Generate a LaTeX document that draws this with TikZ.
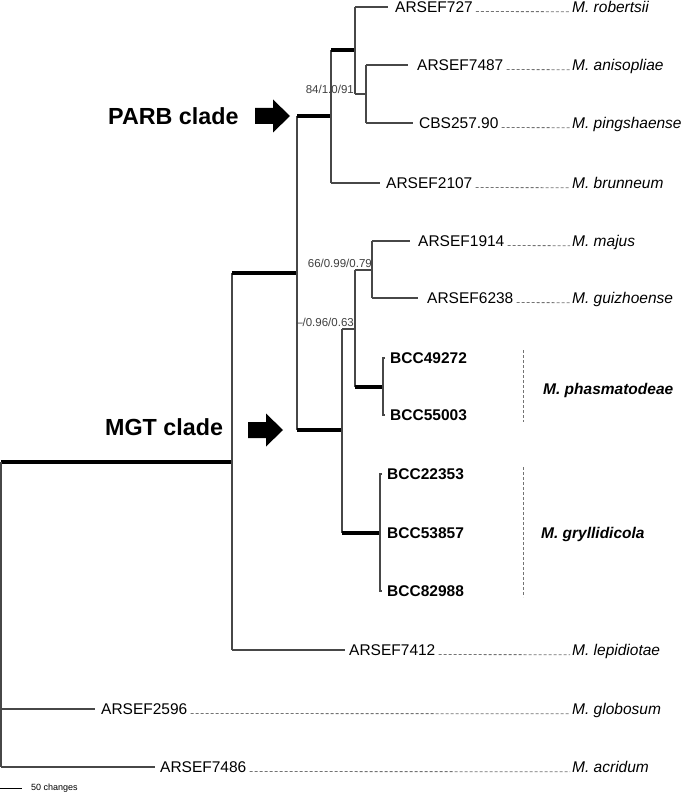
\documentclass[tikz,border=0pt]{standalone}
\usepackage{fontspec}
\setmainfont{Liberation Sans}
\begin{document}
\begin{tikzpicture}[x=1pt,y=-1pt,
  br/.style={draw=black!72, line width=1.1pt},
  thk/.style={draw=black, line width=3.8pt},
  dsh/.style={draw=black!55, line width=0.8pt, dash pattern=on 3pt off 2pt},
  lab/.style={inner sep=0pt, anchor=west, font=\fontsize{15.5}{18}\selectfont},
  bcc/.style={inner sep=0pt, anchor=west, font=\fontsize{15.5}{18}\selectfont\bfseries},
  sp/.style={inner sep=0pt, anchor=base west, font=\fontsize{15.5}{18}\selectfont\itshape},
  spb/.style={inner sep=0pt, anchor=base west, font=\fontsize{15.5}{18}\selectfont\bfseries\itshape},
  suplab/.style={inner sep=0pt, anchor=east, text=black!75, font=\fontsize{11.5}{13}\selectfont},
  clade/.style={inner sep=0pt, anchor=west, font=\fontsize{23.3}{27}\selectfont\bfseries},
  cladearrow/.pic={\fill[black] (-35,-8) -- (-17,-8) -- (-17,-16.5) -- (0,0) -- (-17,16.5) -- (-17,8) -- (-35,8) -- cycle;}
]
\fill[white] (0,0) rectangle (684,794);
\useasboundingbox (0,0) rectangle (684,794);

% internal nodes
\coordinate (R) at (1,462);
\coordinate (A) at (232,462);
\coordinate (B) at (297,273);
\coordinate (P) at (331,116);
\coordinate (Q) at (355,50);
\coordinate (S) at (366,94);
\coordinate (M) at (342,430);
\coordinate (T) at (355,329);
\coordinate (U) at (372,270);
\coordinate (H) at (383,387);
\coordinate (G) at (380,533);

% strain labels
\node[lab] (t727) at (395,7) {ARSEF727};
\node[lab] (t7487) at (417,65) {ARSEF7487};
\node[lab] (t257) at (419,123) {CBS257.90};
\node[lab] (t2107) at (386,183) {ARSEF2107};
\node[lab] (t1914) at (418,241) {ARSEF1914};
\node[lab] (t6238) at (427,298) {ARSEF6238};
\node[bcc] (b49) at (390,358) {BCC49272};
\node[bcc] (b55) at (390,415) {BCC55003};
\node[bcc] (b22) at (387,474) {BCC22353};
\node[bcc] (b53) at (387,533) {BCC53857};
\node[bcc] (b82) at (387,591) {BCC82988};
\node[lab] (t7412) at (349,650) {ARSEF7412};
\node[lab] (t2596) at (101,709) {ARSEF2596};
\node[lab] (t7486) at (160,767) {ARSEF7486};

% species labels
\node[sp] (s727) at (572,12.5) {M. robertsii};
\node[sp] (s7487) at (572,70.5) {M. anisopliae};
\node[sp] (s257) at (572,128.5) {M. pingshaense};
\node[sp] (s2107) at (572,188.5) {M. brunneum};
\node[sp] (s1914) at (572,246.5) {M. majus};
\node[sp] (s6238) at (572,303.5) {M. guizhoense};
\node[sp] (s7412) at (572,655.5) {M. lepidiotae};
\node[sp] (s2596) at (572,714.5) {M. globosum};
\node[sp] (s7486) at (572,772.5) {M. acridum};
\node[spb] (sph) at (543,394.5) {M. phasmatodeae};
\node[spb] (sgr) at (541,538.5) {M. gryllidicola};

% dashed leaders
\foreach \a/\b in {t727/s727,t7487/s7487,t257/s257,t2107/s2107,t1914/s1914,t6238/s6238,t7412/s7412,t2596/s2596,t7486/s7486}
  \draw[dsh] ([xshift=3pt,yshift=0.8pt]\a.base east) -- ([xshift=-2pt,yshift=0.8pt]\b.base west);

% bracket lines
\coordinate (d1a) at (523,350); \coordinate (d1b) at (523,422);
\coordinate (d2a) at (523,467); \coordinate (d2b) at (523,597);
\draw[dsh] (d1a) -- (d1b);
\draw[dsh] (d2a) -- (d2b);

% root
\draw[thk] (R) -- (A);
\draw[br] (R) -- (R |- t7486.west);
\draw[br] (R |- t2596.west) -- ([xshift=-6pt]t2596.west);
\draw[br] (R |- t7486.west) -- ([xshift=-5pt]t7486.west);
% A
\draw[br] (A |- B) -- (A |- t7412.west);
\draw[thk] (A |- B) -- (B);
\draw[br] (A |- t7412.west) -- ([xshift=-4pt]t7412.west);
% B
\draw[br] (B |- P) -- (B |- M);
\draw[thk] (B |- P) -- (P);
\draw[thk] (B |- M) -- (M);
% P
\draw[br] (P |- Q) -- (P |- t2107.west);
\draw[thk] (P |- Q) -- (Q);
\draw[br] (P |- t2107.west) -- ([xshift=-6pt]t2107.west);
% Q
\draw[br] (Q |- t727.west) -- (Q |- S);
\draw[br] (Q |- t727.west) -- ([xshift=-7pt]t727.west);
\draw[br] (Q |- S) -- (S);
% S
\draw[br] (S |- t7487.west) -- (S |- t257.west);
\draw[br] (S |- t7487.west) -- ([xshift=-9pt]t7487.west);
\draw[br] (S |- t257.west) -- ([xshift=-6pt]t257.west);
% M
\draw[br] (M |- T) -- (M |- G);
\draw[br] (M |- T) -- (T);
\draw[thk] (M |- G) -- (G);
% T
\draw[br] (T |- U) -- (T |- H);
\draw[br] (T |- U) -- (U);
\draw[thk] (T |- H) -- (H);
% U
\draw[br] (U |- t1914.west) -- (U |- t6238.west);
\draw[br] (U |- t1914.west) -- ([xshift=-8pt]t1914.west);
\draw[br] (U |- t6238.west) -- ([xshift=-9pt]t6238.west);
% H (phasmatodeae)
\draw[br] (H |- b49.west) ++(2,0) -- ++(-2,0) -- (H |- b55.west) -- ++(2,0);
% G (gryllidicola)
\draw[br] (G |- b22.west) ++(2,0) -- ++(-2,0) -- (G |- b82.west) -- ++(2,0);

% support values
\node[suplab] (sv1) at (354,89) {84/1.0/91};
\node[suplab] (sv2) at (372,263) {66/0.99/0.79};
\node[suplab] (sv3) at (354,322) {–/0.96/0.63};

% clade labels and arrows
\node[clade] (parb) at (108,116) {PARB clade};
\node[clade] (mgt) at (105,427) {MGT clade};
\coordinate (pa) at (290,116);
\coordinate (ma) at (283,430);
\pic at (pa) {cladearrow};
\pic at (ma) {cladearrow};

% scale bar
\coordinate (sb0) at (0,788);
\coordinate (sb1) at (22,788);
\draw[draw=black, line width=0.8pt] (sb0) -- (sb1);
\node[inner sep=0pt, anchor=west, font=\fontsize{9}{10}\selectfont] (sbl) at (31,788) {50 changes};
\end{tikzpicture}
\end{document}
